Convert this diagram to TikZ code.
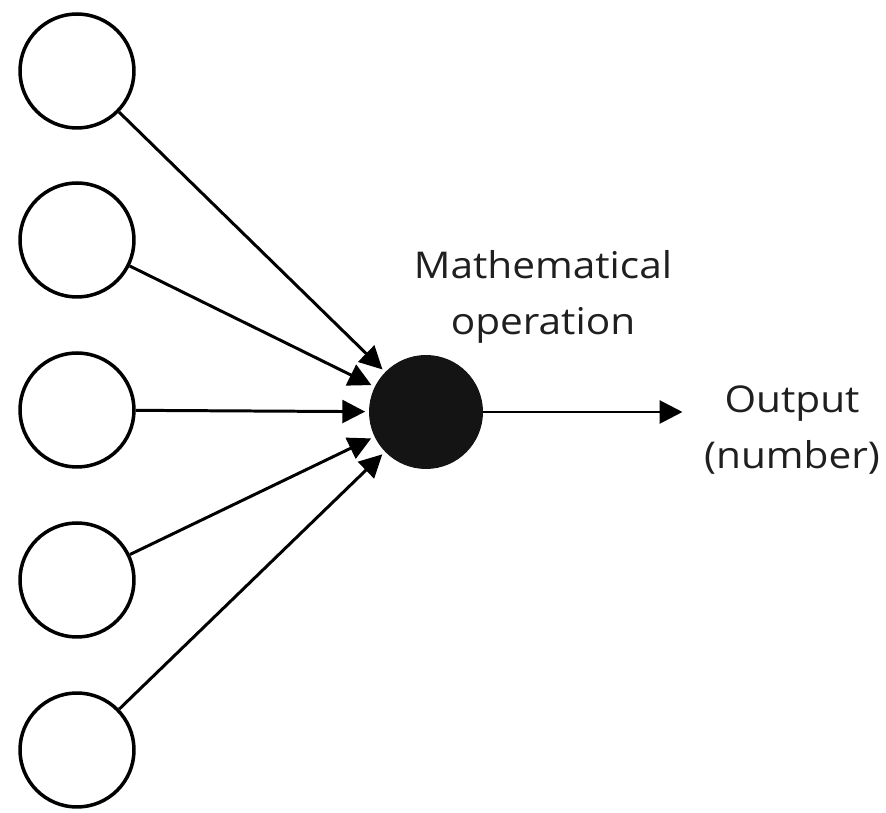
\documentclass[tikz,border=0pt]{standalone}
\usepackage{fontspec}
\setmainfont{Open Sans}[FakeStretch=1.1]
\usetikzlibrary{arrows.meta}

\begin{document}
\begin{tikzpicture}[x=0.02cm,y=-0.02cm]
    % Picture frame, 886 x 813 units
    \useasboundingbox (0,0) rectangle (886,813);
    \tikzset{
        inputnode/.style={circle, draw, line width=2pt, minimum size=2.28cm, inner sep=0pt},
        opnode/.style={circle, fill=black!92, minimum size=2.28cm, inner sep=0pt},
        link/.style={line width=1.7pt, -{Triangle[length=13pt,width=13pt]}, shorten >=2pt},
        lbl/.style={align=center, font=\fontsize{21}{32}\selectfont, text=black!88}
    }

    % Operation (black neuron)
    \node[opnode] (op) at (426,412) {};

    % Input neurons and their links
    \foreach \i/\y in {1/71,2/240,3/410,4/580,5/750} {
        \node[inputnode] (in\i) at (77,\y) {};
        \draw[link] (in\i) -- (op);
    }

    % Output
    \coordinate (out) at (686,412);
    \draw[link] (op) -- (out);

    % Labels
    \node[lbl] (oplbl) at (543,297) {Mathematical\\operation};
    \node[lbl] (outlbl) at (792,430) {Output\\(number)};
\end{tikzpicture}
\end{document}
